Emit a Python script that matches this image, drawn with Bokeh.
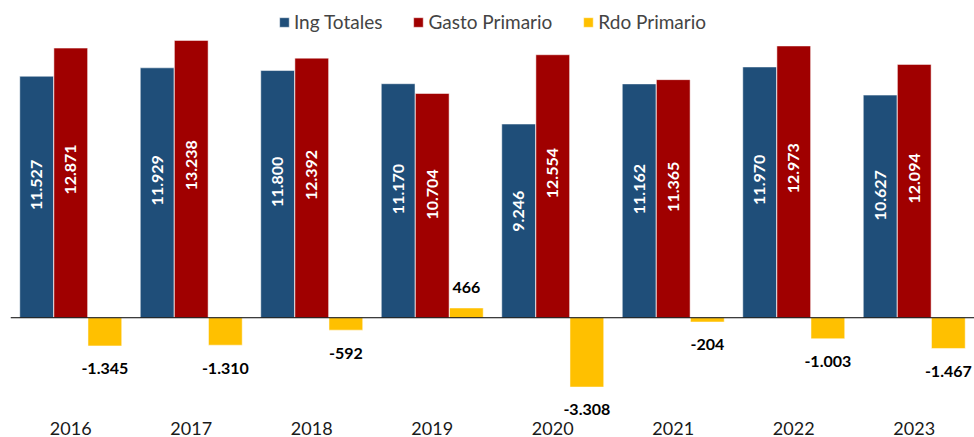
from bokeh.plotting import figure
from bokeh.models import ColumnDataSource, Span, LabelSet, Range1d, Legend, LegendItem
from bokeh.transform import dodge
from bokeh.core.properties import value
from bokeh.embed import file_html
from bokeh.resources import INLINE

years = ["2016", "2017", "2018", "2019", "2020", "2021", "2022", "2023"]
ing_totales = [11527, 11929, 11800, 11170, 9246, 11162, 11970, 10627]
gasto_primario = [12871, 13238, 12392, 10704, 12554, 11365, 12973, 12094]
rdo_primario = [-1345, -1310, -592, 466, -3308, -204, -1003, -1467]
series_names = ["Ing Totales", "Gasto Primario", "Rdo Primario"]
colors = ["#1F4E79", "#A00000", "#FFC000"]


def fmt(v):
    return f"{v:,}".replace(",", ".")


FIG_W, FIG_H = 974, 437
FRAME_H = 420
Y_START, Y_END = -4857, 15143
units_per_px = (Y_END - Y_START) / FRAME_H

src = ColumnDataSource(dict(
    years=years,
    ing=ing_totales,
    gas=gasto_primario,
    rdo=rdo_primario,
    ing_lbl=[fmt(v) for v in ing_totales],
    gas_lbl=[fmt(v) for v in gasto_primario],
    rdo_lbl=[fmt(v) for v in rdo_primario],
    ing_mid=[v * 0.55 for v in ing_totales],
    gas_mid=[v * 0.55 for v in gasto_primario],
    rdo_pos=[v + (21 if v > 0 else -23) * units_per_px for v in rdo_primario],
))

p = figure(x_range=years, y_range=Range1d(Y_START, Y_END), width=FIG_W, height=FIG_H,
           output_backend="svg", toolbar_location=None,
           min_border_left=10, min_border_right=0, min_border_top=0, min_border_bottom=0)

off = 0.283
bw = 0.28
r1 = p.vbar(x=dodge("years", -off, range=p.x_range), top="ing", width=bw, source=src,
            fill_color=colors[0], line_color="white", line_alpha=0.5)
r2 = p.vbar(x=dodge("years", 0, range=p.x_range), top="gas", width=bw, source=src,
            fill_color=colors[1], line_color="white", line_alpha=0.5)
r3 = p.vbar(x=dodge("years", off, range=p.x_range), top="rdo", width=bw, source=src,
            fill_color=colors[2], line_color="white", line_alpha=0.5)

p.add_layout(Span(location=0, dimension="width", line_color="black", line_width=1))

common = dict(source=src, text_font=value("Lato"), text_font_size="16px",
              text_font_style="bold", text_align="center", text_baseline="middle")
p.add_layout(LabelSet(x=dodge("years", -off, range=p.x_range), y="ing_mid", text="ing_lbl",
                      angle=1.5707963, text_color="white", **common))
p.add_layout(LabelSet(x=dodge("years", 0, range=p.x_range), y="gas_mid", text="gas_lbl",
                      angle=1.5707963, text_color="white", **common))
p.add_layout(LabelSet(x=dodge("years", off, range=p.x_range), y="rdo_pos", text="rdo_lbl",
                      text_color="black", **common))

legend = Legend(items=[LegendItem(label=series_names[0], renderers=[r1]),
                       LegendItem(label=series_names[1], renderers=[r2]),
                       LegendItem(label=series_names[2], renderers=[r3])],
                orientation="horizontal", location="top_center",
                border_line_alpha=0, background_fill_alpha=0,
                label_text_font="Lato", label_text_font_size="19px",
                glyph_width=12, glyph_height=12, spacing=30, label_standoff=4,
                margin=0, padding=10)
p.add_layout(legend)

p.yaxis.visible = False
p.xgrid.grid_line_color = None
p.ygrid.grid_line_color = None
p.outline_line_color = None
p.xaxis.axis_line_color = None
p.xaxis.major_tick_line_color = None
p.xaxis.major_tick_out = 0
p.xaxis.major_tick_in = 0
p.xaxis.major_label_standoff = 2
p.xaxis.major_label_text_font = "Lato"
p.xaxis.major_label_text_font_size = "18px"
p.xaxis.major_label_text_color = "#1a1a1a"
p.x_range.range_padding = 0

open("out.html", "w").write(file_html(p, INLINE))
